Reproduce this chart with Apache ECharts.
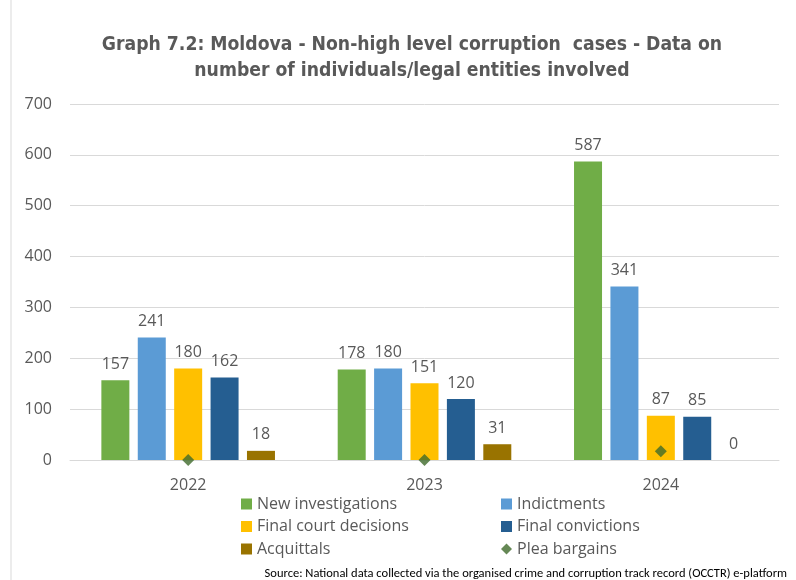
<!DOCTYPE html>
<html>
<head>
<meta charset="utf-8">
<script src="https://cdn.jsdelivr.net/npm/echarts@6/dist/echarts.min.js"></script>
<style>
  html, body { margin: 0; padding: 0; background: #fff; }
  #chart { width: 796px; height: 580px; }
</style>
</head>
<body>
<div id="chart"></div>
<script>
// categories and values
var years = ['2022', '2023', '2024']
var newInvestigations = [157, 178, 587]
var indictments = [241, 180, 341]
var finalCourtDecisions = [180, 151, 87]
var finalConvictions = [162, 120, 85]
var acquittals = [18, 31, 0]
var pleaBargains = [0, 0, 17]

var textColor = '#595959'
var font = '"Open Sans", sans-serif'

function barSeries (name, data, color) {
  return {
    name: name,
    type: 'bar',
    data: data,
    barWidth: 28,
    barGap: '30%',
    itemStyle: { color: color },
    label: {
      show: true,
      position: 'top',
      distance: 8,
      color: textColor,
      fontSize: 16,
      fontFamily: font
    }
  }
}

var myChart = echarts.init(document.getElementById('chart'))
myChart.setOption({
  animation: false,
  title: {
    text: 'Graph 7.2: Moldova - Non-high level corruption  cases - Data on\nnumber of individuals/legal entities involved',
    left: 407,
    textAlign: 'center',
    top: 27,
    textStyle: {
      color: textColor,
      fontSize: 19.2,
      fontWeight: 'bold',
      lineHeight: 26,
      fontFamily: '"DejaVu Sans Condensed", Roboto, sans-serif'
    }
  },
  grid: { left: 70, right: 17, top: 104, bottom: 120 },
  legend: [{
    orient: 'vertical',
    left: 236,
    top: 491,
    itemWidth: 11,
    itemHeight: 11,
    itemGap: 6.5,
    textStyle: { color: textColor, fontSize: 16, fontFamily: font },
    data: [
      { name: 'New investigations', icon: 'rect' },
      { name: 'Final court decisions', icon: 'rect' },
      { name: 'Acquittals', icon: 'rect' }
    ]
  }, {
    orient: 'vertical',
    left: 496,
    top: 491,
    itemWidth: 11,
    itemHeight: 11,
    itemGap: 6.5,
    textStyle: { color: textColor, fontSize: 16, fontFamily: font },
    data: [
      { name: 'Indictments', icon: 'rect' },
      { name: 'Final convictions', icon: 'rect' },
      { name: 'Plea bargains', icon: 'diamond' }
    ]
  }],
  xAxis: {
    type: 'category',
    data: years,
    axisLine: { lineStyle: { color: '#d9d9d9' } },
    axisTick: { show: false },
    axisLabel: { color: textColor, fontSize: 16, fontFamily: font, margin: 17 }
  },
  yAxis: {
    type: 'value',
    min: 0,
    max: 700,
    interval: 100,
    axisLine: { show: false },
    axisTick: { show: false },
    axisLabel: { color: textColor, fontSize: 16, fontFamily: font, margin: 18 },
    splitLine: { lineStyle: { color: '#d9d9d9', width: 1 } }
  },
  graphic: [{
    type: 'line',
    shape: { x1: 11, y1: 0, x2: 11, y2: 580 },
    style: { stroke: '#d9d9d9', lineWidth: 1 }
  }, {
    type: 'text',
    right: 9,
    top: 567,
    style: {
      text: 'Source: National data collected via the organised crime and corruption track record (OCCTR) e-platform',
      fill: '#000',
      fontSize: 12.5,
      fontFamily: 'Carlito, Calibri, sans-serif'
    }
  }],
  series: [
    barSeries('New investigations', newInvestigations, '#70AD47'),
    barSeries('Indictments', indictments, '#5B9BD5'),
    barSeries('Final court decisions', finalCourtDecisions, '#FFC000'),
    barSeries('Final convictions', finalConvictions, '#255E91'),
    barSeries('Acquittals', acquittals, '#997300'),
    {
      name: 'Plea bargains',
      type: 'scatter',
      data: pleaBargains,
      symbol: 'diamond',
      symbolSize: 12,
      itemStyle: { color: '#3F6A2A' },
      z: 5
    }
  ]
})
</script>
</body>
</html>
